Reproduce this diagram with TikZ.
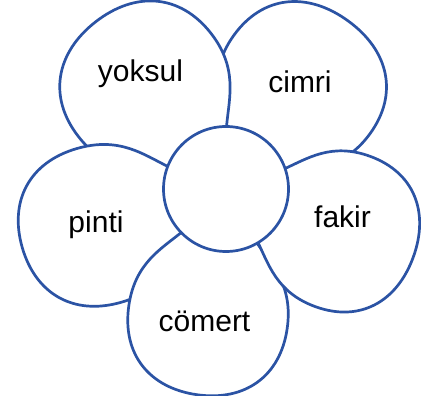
\documentclass[tikz,border=0pt]{standalone}
\usepackage{fontspec}
\setmainfont{Liberation Sans}
\definecolor{petalblue}{RGB}{43,83,164}

\tikzset{
    petal/.style={draw=petalblue, line width=2.7pt, fill=white, line join=round},
    hub/.style={circle, draw=petalblue, line width=2.7pt, fill=white, inner sep=0pt, minimum size=125pt},
    word/.style={anchor=base, inner sep=0pt, font=\fontsize{30}{34}\selectfont}
}

\begin{document}
\begin{tikzpicture}[x=1pt, y=1pt]
        \useasboundingbox (0,0) rectangle (431,396);
        \coordinate (c) at (226, 207);

        % petals, back to front: cimri, yoksul, pinti, comert, fakir
        \foreach \ang/\len/\wid in {54/0.98/1.05, 128/1/1.05, 196/1/1, 262/0.98/1, 340/0.94/1}
            \draw[petal, shift={(c)}, rotate=\ang, xscale=\len, yscale=\wid]
                (0,0) -- (50,38) .. controls (70,56) and (88,80) .. (132,80)
                .. controls (182,80) and (212,48) .. (212,0)
                .. controls (212,-48) and (182,-80) .. (132,-80)
                .. controls (88,-80) and (70,-56) .. (50,-38) -- cycle;

        \node[hub] (hub) at (c) {};

        \node[word] (yoksul) at (140.5, 314) {yoksul};
        \node[word] (cimri) at (300, 303) {cimri};
        \node[word] (pinti) at (96, 163) {pinti};
        \node[word] (fakir) at (342.5, 168) {fakir};
        \node[word] (comert) at (204.5, 64) {cömert};
    \end{tikzpicture}
\end{document}
